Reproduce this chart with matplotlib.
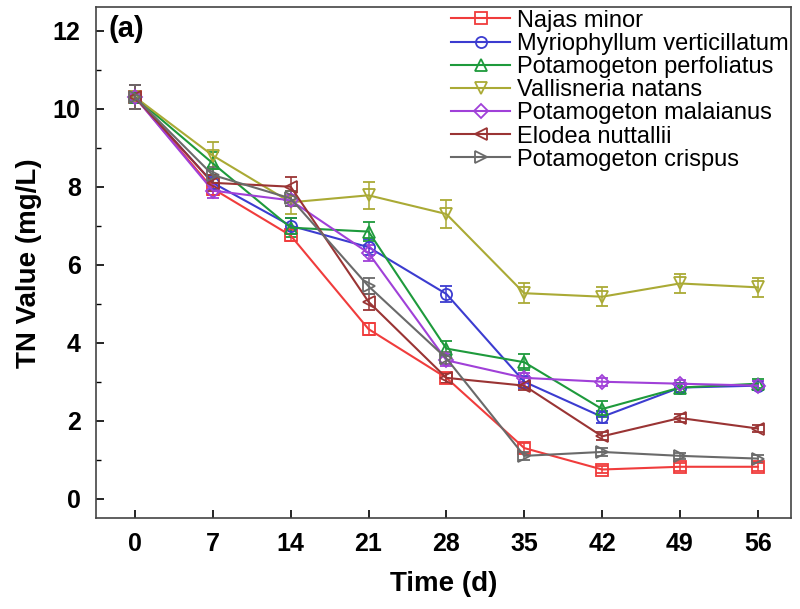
import numpy as np
from matplotlib import pyplot as plt

plt.rcParams['font.family'] = ['Liberation Sans', 'DejaVu Sans']

days = [0, 7, 14, 21, 28, 35, 42, 49, 56]

najas = [10.3, 7.95, 6.75, 4.35, 3.1, 1.3, 0.75, 0.82, 0.82]
myrio = [10.3, 8.1, 7.0, 6.45, 5.25, 3.0, 2.1, 2.85, 2.9]
perfol = [10.3, 8.6, 6.95, 6.85, 3.85, 3.5, 2.3, 2.85, 2.95]
valli = [10.3, 8.8, 7.6, 7.78, 7.3, 5.27, 5.18, 5.52, 5.42]
malai = [10.3, 7.9, 7.65, 6.3, 3.55, 3.1, 3.0, 2.95, 2.9]
elodea = [10.3, 8.1, 8.0, 5.05, 3.1, 2.9, 1.6, 2.07, 1.8]
crispus = [10.3, 8.3, 7.7, 5.45, 3.6, 1.1, 1.2, 1.1, 1.03]

err_najas = [0.3, 0.15, 0.15, 0.15, 0.12, 0.12, 0.1, 0.1, 0.1]
err_myrio = [0.3, 0.15, 0.2, 0.2, 0.2, 0.15, 0.15, 0.12, 0.12]
err_perfol = [0.3, 0.3, 0.25, 0.25, 0.2, 0.2, 0.2, 0.12, 0.12]
err_valli = [0.3, 0.35, 0.3, 0.35, 0.35, 0.25, 0.25, 0.25, 0.25]
err_malai = [0.3, 0.2, 0.15, 0.2, 0.15, 0.12, 0.1, 0.1, 0.12]
err_elodea = [0.3, 0.2, 0.25, 0.2, 0.12, 0.1, 0.1, 0.1, 0.1]
err_crispus = [0.3, 0.2, 0.2, 0.2, 0.15, 0.1, 0.1, 0.08, 0.08]

names = ['Najas minor', 'Myriophyllum verticillatum', 'Potamogeton perfoliatus',
         'Vallisneria natans', 'Potamogeton malaianus', 'Elodea nuttallii',
         'Potamogeton crispus']
series = [najas, myrio, perfol, valli, malai, elodea, crispus]
errors = [err_najas, err_myrio, err_perfol, err_valli, err_malai, err_elodea, err_crispus]
colors = ['#f03c3c', '#3c3cd0', '#1e9a3c', '#aaaa35', '#a040d8', '#9a3434', '#6a6a6a']
markers = ['s', 'o', '^', 'v', 'D', '<', '>']

fig = plt.figure(figsize=(8, 6.09), dpi=100)
ax = fig.add_axes([0.12, 0.149, 0.869, 0.839])

handles = []
for name, y, e, c, m in zip(names, series, errors, colors, markers):
    eb = ax.errorbar(days, y, yerr=e, color=c, marker=m, markersize=8 if m != 'D' else 7,
                     markerfacecolor='none', markeredgecolor=c, markeredgewidth=1.3,
                     linewidth=1.5, capsize=4, elinewidth=1.1, label=name)
    handles.append(eb[0])

ax.set_xlim(-3.5, 59)
ax.set_ylim(-0.5, 12.6)
ax.set_xticks(days)
ax.set_yticks([0, 2, 4, 6, 8, 10, 12])
ax.set_yticks([1, 3, 5, 7, 9, 11], minor=True)
ax.tick_params(direction='in', length=6, width=1.2, labelsize=18)
ax.tick_params(axis='y', pad=11)
ax.tick_params(axis='x', pad=10)
ax.tick_params(which='minor', direction='in', length=3.5, width=1.0)
for lab in ax.get_xticklabels() + ax.get_yticklabels():
    lab.set_fontweight('bold')
for s in ax.spines.values():
    s.set_linewidth(1.2)
    s.set_color('#444444')

ax.set_xlabel('Time (d)', fontsize=20, fontweight='bold', labelpad=11)
ax.set_ylabel('TN Value (mg/L)', fontsize=20, fontweight='bold', labelpad=8)
ax.text(0.018, 0.985, '(a)', transform=ax.transAxes, fontsize=21, fontweight='bold',
        va='top', ha='left')

ax.legend(handles, names, loc='upper right', bbox_to_anchor=(1.0, 1.0), frameon=False,
          fontsize=17, handlelength=2.5, labelspacing=0.05, borderaxespad=0.0,
          borderpad=0.1, handletextpad=0.3)

fig.savefig('out.png', dpi=100)
